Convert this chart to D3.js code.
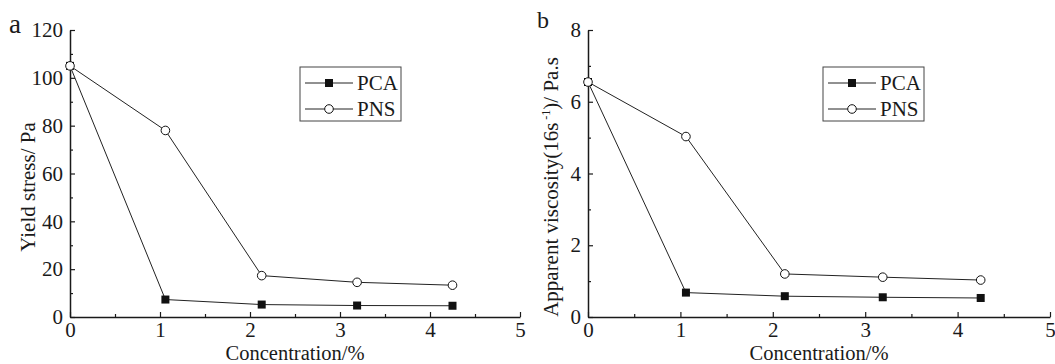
<!DOCTYPE html>
<html>
<head>
<meta charset="utf-8">
<script src="https://cdn.jsdelivr.net/npm/d3@7"></script>
<style>
  body { margin: 0; background: #fff; }
  svg text { font-family: "Liberation Serif", "Times New Roman", Times, serif; fill: #1a1a1a; }
  .domain { stroke: #1a1a1a; stroke-width: 1.5; }
  .tick line { stroke: #1a1a1a; stroke-width: 1.2; }
</style>
</head>
<body>
<div id="chart"></div>
<script>
// data
var conc = [0, 1.06, 2.13, 3.19, 4.25];
var pcaYield = [105, 7.3, 5.2, 4.8, 4.7];
var pnsYield = [105, 78, 17.3, 14.5, 13.3];
var pcaVisc = [6.55, 0.68, 0.58, 0.55, 0.53];
var pnsVisc = [6.55, 5.03, 1.2, 1.11, 1.03];
var seriesNames = ["PCA", "PNS"];
var xTicks = [0, 1, 2, 3, 4, 5];
var yieldTicks = [0, 20, 40, 60, 80, 100, 120];
var viscTicks = [0, 2, 4, 6, 8];

var svg = d3.select("#chart").append("svg")
  .attr("width", 1055)
  .attr("height", 364);

var panels = [
  { tag: "a", tagX: 9, tagY: 33, tagSize: 27, left: 70, right: 520, yMax: 120, yTicks: yieldTicks, yMinorStep: 10,
    pca: pcaYield, pns: pnsYield, labelX: 35, legX: 300, legW: 101 },
  { tag: "b", tagX: 537, tagY: 28, tagSize: 24, left: 588, right: 1050, yMax: 8, yTicks: viscTicks, yMinorStep: 1,
    pca: pcaVisc, pns: pnsVisc, labelX: 558, legX: 823, legW: 101 }
];

var plotTop = 30, plotBottom = 317;

panels.forEach(function (p, i) {
  var x = d3.scaleLinear().domain([0, 5]).range([p.left, p.right]);
  var y = d3.scaleLinear().domain([0, p.yMax]).range([plotBottom, plotTop]);
  var g = svg.append("g");

  // minor ticks
  g.append("g")
    .attr("transform", "translate(0," + plotBottom + ")")
    .call(d3.axisBottom(x).tickValues(d3.range(0.5, 5, 1)).tickSize(-3).tickFormat(""))
    .select(".domain").remove();
  g.append("g")
    .attr("transform", "translate(" + p.left + ",0)")
    .call(d3.axisLeft(y).tickValues(d3.range(p.yMinorStep, p.yMax, p.yMinorStep * 2)).tickSize(-3).tickFormat(""))
    .select(".domain").remove();

  // main axes
  g.append("g")
    .attr("transform", "translate(0," + plotBottom + ")")
    .call(d3.axisBottom(x).tickValues(xTicks).tickFormat(d3.format("d"))
      .tickSize(-5).tickSizeOuter(0).tickPadding(5));
  g.append("g")
    .attr("transform", "translate(" + p.left + ",0)")
    .call(d3.axisLeft(y).tickValues(p.yTicks).tickFormat(d3.format("d"))
      .tickSize(-5).tickSizeOuter(0).tickPadding(7));
  g.selectAll(".tick text").attr("font-size", 21);

  // axis titles
  g.append("text")
    .attr("x", (p.left + p.right) / 2)
    .attr("y", 360)
    .attr("text-anchor", "middle")
    .attr("font-size", 20.5)
    .text("Concentration/%");

  var yl = g.append("text")
    .attr("transform", "translate(" + p.labelX + ",187) rotate(-90)")
    .attr("text-anchor", "middle")
    .attr("font-size", 21);
  if (i === 0) {
    yl.text("Yield stress/ Pa");
  } else {
    yl.append("tspan").text("Apparent viscosity(16s");
    yl.append("tspan").attr("font-size", 12).attr("dy", -8).text(" -1");
    yl.append("tspan").attr("dy", 8).text(")/ Pa.s");
  }

  g.append("text")
    .attr("x", p.tagX)
    .attr("y", p.tagY)
    .attr("font-size", p.tagSize)
    .text(p.tag);

  // lines and markers
  var line = d3.line().x(function (d, k) { return x(conc[k]); }).y(function (d) { return y(d); });

  g.append("path").datum(p.pca).attr("d", line)
    .attr("fill", "none").attr("stroke", "#222").attr("stroke-width", 1);
  g.append("path").datum(p.pns).attr("d", line)
    .attr("fill", "none").attr("stroke", "#222").attr("stroke-width", 1);

  g.selectAll(".sq").data(p.pca).enter().append("rect")
    .attr("x", function (d, k) { return x(conc[k]) - 4; })
    .attr("y", function (d) { return y(d) - 4; })
    .attr("width", 8).attr("height", 8)
    .attr("fill", "#111");

  g.selectAll(".ci").data(p.pns).enter().append("circle")
    .attr("cx", function (d, k) { return x(conc[k]); })
    .attr("cy", function (d) { return y(d); })
    .attr("r", 4.3)
    .attr("fill", "#fff").attr("stroke", "#111").attr("stroke-width", 1);

  // legend
  var leg = g.append("g").attr("transform", "translate(" + p.legX + ",67)");
  leg.append("rect")
    .attr("width", p.legW).attr("height", 54)
    .attr("fill", "#fff").attr("stroke", "#444").attr("stroke-width", 1);
  seriesNames.forEach(function (name, k) {
    var ry = 16 + k * 26;
    leg.append("line").attr("x1", 5).attr("x2", 53).attr("y1", ry).attr("y2", ry)
      .attr("stroke", "#222").attr("stroke-width", 1);
    if (k === 0) {
      leg.append("rect").attr("x", 25).attr("y", ry - 4).attr("width", 8).attr("height", 8).attr("fill", "#111");
    } else {
      leg.append("circle").attr("cx", 29).attr("cy", ry).attr("r", 4.3)
        .attr("fill", "#fff").attr("stroke", "#111");
    }
    leg.append("text").attr("x", 57).attr("y", ry + 7).attr("font-size", 21).text(name);
  });
});
</script>
</body>
</html>
